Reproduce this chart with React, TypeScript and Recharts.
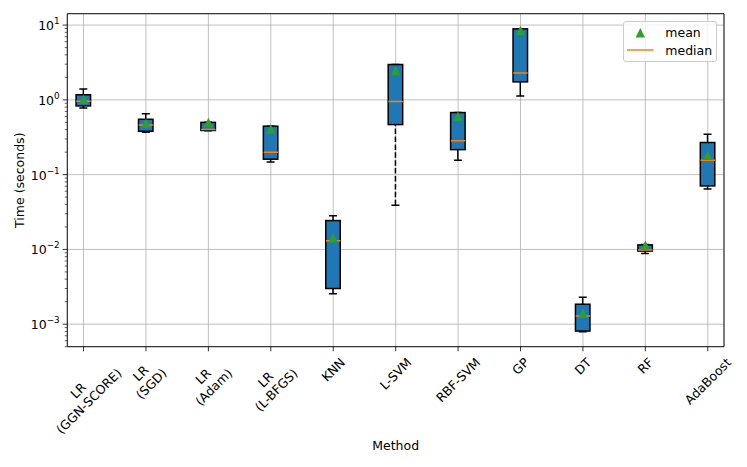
import React from 'react';
import { ComposedChart, Bar, Scatter, XAxis, YAxis, CartesianGrid, ReferenceArea, Legend } from 'recharts';

const methods = ["LR\n(GGN-SCORE)", "LR\n(SGD)", "LR\n(Adam)", "LR\n(L-BFGS)", "KNN", "L-SVM", "RBF-SVM", "GP", "DT", "RF", "AdaBoost"];
const whiskerLow = [0.78, 0.37, 0.385, 0.148, 0.00256, 0.039, 0.156, 1.13, 0.00079, 0.0088, 0.0645];
const q1 = [0.83, 0.38, 0.39, 0.161, 0.0030, 0.467, 0.216, 1.74, 0.00081, 0.0095, 0.0707];
const median = [0.96, 0.46, 0.40, 0.20, 0.0131, 0.95, 0.283, 2.28, 0.00129, 0.00985, 0.156];
const q3 = [1.17, 0.55, 0.50, 0.445, 0.0243, 2.97, 0.676, 8.9, 0.00185, 0.0115, 0.269];
const whiskerHigh = [1.40, 0.65, 0.50, 0.445, 0.0283, 2.97, 0.676, 8.9, 0.00229, 0.0116, 0.348];
const mean = [1.02, 0.49, 0.50, 0.407, 0.0143, 2.47, 0.607, 8.45, 0.0014, 0.0114, 0.182];

const majorTicks = [0.001, 0.01, 0.1, 1, 10];
const majorExponents = ["\u22123", "\u22122", "\u22121", "0", "1"];
const minorTicks = [
  0.0005, 0.0006, 0.0007, 0.0008, 0.0009,
  0.002, 0.003, 0.004, 0.005, 0.006, 0.007, 0.008, 0.009,
  0.02, 0.03, 0.04, 0.05, 0.06, 0.07, 0.08, 0.09,
  0.2, 0.3, 0.4, 0.5, 0.6, 0.7, 0.8, 0.9,
  2, 3, 4, 5, 6, 7, 8, 9,
];

const Y_DOMAIN: [number, number] = [0.0005, 14.2];
const X_DOMAIN: [number, number] = [-0.26, 10.26];
const xTicks = methods.map((_, i) => i);

const data = methods.map((m, i) => ({
  idx: i,
  name: m,
  whisker: [whiskerLow[i], whiskerHigh[i]],
  box: [q1[i], q3[i]],
  median: median[i],
  mean: mean[i],
}));

const FONT = "DejaVu Sans";
const FS = 12.5;
const BLUE = "#1f77b4";
const ORANGE = "#ff7f0e";
const GREEN = "#2ca02c";

// layout
const M_TOP = 13.7;
const M_RIGHT = 23;
const M_BOTTOM = 10.3;
const Y_AXIS_W = 67.3;
const X_AXIS_H = 110;
const CHART_W = 747;
const CHART_H = 467;
const PLOT_LEFT = Y_AXIS_W;
const PLOT_BOTTOM = CHART_H - M_BOTTOM - X_AXIS_H;

const CW: Record<string, number> = {
  L: 0.557, R: 0.695, '(': 0.39, ')': 0.39, G: 0.775, N: 0.748, '-': 0.361, S: 0.635, C: 0.698,
  O: 0.787, E: 0.632, D: 0.77, A: 0.684, d: 0.635, a: 0.613, m: 0.974, B: 0.686, F: 0.575,
  K: 0.656, V: 0.684, M: 0.863, P: 0.603, T: 0.611, b: 0.635, o: 0.612, s: 0.521, t: 0.392,
};
const textWidth = (s: string) => s.split('').reduce((a, c) => a + (CW[c] ?? 0.6), 0) * FS;

const XTick = (props: any) => {
  const { x, payload } = props;
  const y = PLOT_BOTTOM;
  const label = methods[payload.value];
  if (label === undefined) return null;
  const lines = label.split('\n');
  const lh = FS * 1.2;
  const W = Math.max(...lines.map(textWidth));
  const H = lines.length * lh;
  const half = (W + H) / (2 * Math.SQRT2);
  const cy = y + 4.6 + 3.5 + half;
  return (
    <g>
      <line x1={x} x2={x} y1={y} y2={y + 4.6} stroke="#000" strokeWidth={0.8} />
      <g transform={`translate(${x},${cy}) rotate(-45)`}>
        {lines.map((l: string, k: number) => (
          <text key={k} x={0} y={(k - (lines.length - 1) / 2) * lh} textAnchor="middle" dominantBaseline="central"
            fontFamily={FONT} fontSize={FS} fill="#000">{l}</text>
        ))}
      </g>
    </g>
  );
};

const YTick = (props: any) => {
  const { y, payload } = props;
  const x = PLOT_LEFT;
  const v = payload.value;
  const mi = majorTicks.indexOf(v);
  const major = mi >= 0;
  const len = major ? 4.6 : 2.6;
  return (
    <g>
      <line x1={x - len} x2={x} y1={y} y2={y} stroke="#000" strokeWidth={major ? 0.8 : 0.6} />
      {major && (
        <text x={x - 4.6 - 3} y={y + 5} textAnchor="end" fontFamily={FONT} fontSize={FS} fill="#000">
          <tspan>10</tspan>
          <tspan dy={-6} fontSize={8.8}>{majorExponents[mi]}</tspan>
        </text>
      )}
    </g>
  );
};

const WhiskerShape = (props: any) => {
  const { x, y, width, height, payload } = props;
  if (x == null || y == null) return null;
  const cx = x + width / 2;
  const dashed = payload && payload.name === "L-SVM";
  return (
    <g>
      <line x1={cx} x2={cx} y1={y + height} y2={y} stroke="#000" strokeWidth={1.5}
        strokeDasharray={dashed ? "5.5 2.4" : undefined} />
      <line x1={x} x2={x + width} y1={y} y2={y} stroke="#000" strokeWidth={1.5} />
      <line x1={x} x2={x + width} y1={y + height} y2={y + height} stroke="#000" strokeWidth={1.5} />
    </g>
  );
};

const BoxShape = (props: any) => {
  const { x, y, width, height } = props;
  if (x == null || y == null) return null;
  return <rect x={x + 0.75} y={y} width={width - 1.5} height={height} fill={BLUE} stroke="#000" strokeWidth={1.5} />;
};

const MedianShape = (props: any) => {
  const { cx, cy } = props;
  if (cx == null || cy == null) return null;
  return <line x1={cx - 7.25} x2={cx + 7.25} y1={cy} y2={cy} stroke={ORANGE} strokeWidth={1.5} />;
};

const MeanShape = (props: any) => {
  const { cx, cy } = props;
  if (cx == null || cy == null) return null;
  const s = 4.7;
  return <polygon points={`${cx},${cy - s} ${cx - s},${cy + s} ${cx + s},${cy + s}`} fill={GREEN} />;
};

const LegendBox = () => (
  <div style={{
    width: 94.6, height: 41.3, boxSizing: 'border-box', border: '1px solid #cccccc', borderRadius: 3,
    background: 'rgba(255,255,255,0.8)', position: 'relative',
  }}>
    <svg width={94.6} height={41.3} style={{ position: 'absolute', left: -1, top: -1 }}>
      <polygon points={`17.3,7 12.6,16.4 22,16.4`} fill={GREEN} />
      <text x={42.3} y={11.7} dominantBaseline="central" fontFamily={FONT} fontSize={FS} fill="#000">mean</text>
      <line x1={4} x2={30.6} y1={29} y2={29} stroke={ORANGE} strokeWidth={1.5} />
      <text x={42.3} y={29} dominantBaseline="central" fontFamily={FONT} fontSize={FS} fill="#000">median</text>
    </svg>
  </div>
);

export default function App() {
  return (
    <div style={{ position: 'absolute', left: 0, top: 0, background: '#fff' }}>
      <ComposedChart width={CHART_W} height={CHART_H} data={data}
        margin={{ top: M_TOP, right: M_RIGHT, bottom: M_BOTTOM, left: 0 }}>
        <CartesianGrid xAxisId="main" yAxisId="grid" stroke="#b0b0b0" strokeWidth={0.8} />
        <XAxis xAxisId="main" type="number" dataKey="idx" domain={X_DOMAIN} ticks={xTicks} interval={0}
          allowDataOverflow tick={<XTick />} tickLine={false} axisLine={false} tickSize={0} tickMargin={0}
          height={X_AXIS_H}
          label={(p: any) => {
            const vb = p.viewBox || { x: PLOT_LEFT, width: CHART_W - PLOT_LEFT - M_RIGHT };
            return <text x={vb.x + vb.width / 2} y={449.5} textAnchor="middle" fontFamily={FONT} fontSize={FS} fill="#000">Method</text>;
          }} />
        <XAxis xAxisId="w" type="number" dataKey="idx" domain={X_DOMAIN} ticks={xTicks} allowDataOverflow hide />
        <XAxis xAxisId="b" type="number" dataKey="idx" domain={X_DOMAIN} ticks={xTicks} allowDataOverflow hide />
        <YAxis yAxisId="main" scale="log" type="number" domain={Y_DOMAIN} allowDataOverflow
          ticks={[...majorTicks, ...minorTicks]} interval={0} tick={<YTick />} tickLine={false} axisLine={false}
          tickSize={0} tickMargin={0} width={Y_AXIS_W}
          label={(p: any) => {
            const vb = p.viewBox || { y: M_TOP, height: PLOT_BOTTOM - M_TOP };
            const cy = vb.y + vb.height / 2;
            return <text x={20} y={cy} transform={`rotate(-90, 20, ${cy})`} textAnchor="middle" dominantBaseline="central"
              fontFamily={FONT} fontSize={FS} fill="#000">Time (seconds)</text>;
          }} />
        <YAxis yAxisId="grid" scale="log" type="number" domain={Y_DOMAIN} allowDataOverflow ticks={majorTicks} interval={0} hide />
        <Bar xAxisId="w" yAxisId="main" dataKey="whisker" barSize={8} shape={<WhiskerShape />} isAnimationActive={false} legendType="none" />
        <Bar xAxisId="b" yAxisId="main" dataKey="box" barSize={16} shape={<BoxShape />} isAnimationActive={false} legendType="none" />
        <Scatter xAxisId="main" yAxisId="main" dataKey="median" name="median" shape={<MedianShape />} isAnimationActive={false} />
        <Scatter xAxisId="main" yAxisId="main" dataKey="mean" name="mean" shape={<MeanShape />} isAnimationActive={false} />
        <ReferenceArea xAxisId="main" yAxisId="main" x1={X_DOMAIN[0]} x2={X_DOMAIN[1]} y1={Y_DOMAIN[0]} y2={Y_DOMAIN[1]}
          fill="none" fillOpacity={0} stroke="#000" strokeWidth={0.9} ifOverflow="visible" />
        <Legend layout="vertical" align="center" verticalAlign="middle" content={<LegendBox />}
          wrapperStyle={{ position: 'absolute', left: 622.7, top: 21, width: 94.6, height: 41.3 }} />
      </ComposedChart>
    </div>
  );
}
